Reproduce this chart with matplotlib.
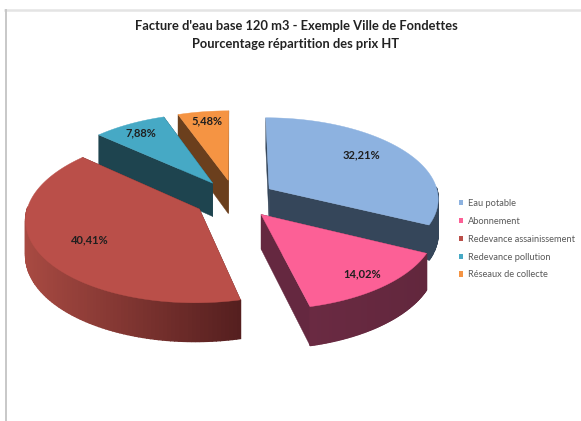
import numpy as np
import matplotlib
matplotlib.use("Agg")
import matplotlib.pyplot as plt
from matplotlib.colors import to_rgb
from matplotlib.patches import Polygon, Patch
from matplotlib.lines import Line2D

labels = ["Eau potable", "Abonnement", "Redevance assainissement",
          "Redevance pollution", "Réseaux de collecte"]
values = [32.21, 14.02, 40.41, 7.88, 5.48]
value_text = ["32,21%", "14,02%", "40,41%", "7,88%", "5,48%"]
top_colors = ["#8DB2E0", "#FC6096", "#BA4F49", "#46A9C5", "#F59443"]
cut_colors = ["#35465A", "#652840", "#5A2222", "#1E444F", "#6B3F1D"]
arc_bright = ["#3A4A60", "#6A2A42", "#A84A42", "#26505E", "#7A4820"]
arc_dark = ["#35465A", "#62273D", "#551F1F", "#1E444F", "#6B3F1D"]
title_lines = ["Facture d'eau base 120 m3 - Exemple Ville de Fondettes",
               "Pourcentage répartition des prix HT"]
label_offset = [(0.69, 0.85), (0.84, 0.84), (0.70, 0.70), (0.845, 0.845), (0.853, 0.853)]

W, H = 581, 421
CX, CY = 235.0, 199.0
A, B = 170.0, 81.0
PERSP = 0.11
EXPLODE = 0.24
DEPTH = 34.0

plt.rcParams['font.family'] = ['Lato', 'DejaVu Sans']
fig = plt.figure(figsize=(W / 100, H / 100), dpi=100)
ax = fig.add_axes([0, 0, 1, 1])
ax.set_xlim(0, W)
ax.set_ylim(H, 0)
ax.axis("off")


def project(X, Y, z=0.0):
    s = 1.0 / (1.0 + PERSP * np.asarray(Y))
    return CX + A * np.asarray(X) * s, CY - B * np.asarray(Y) * s + z * DEPTH * s


fractions = np.array(values) / np.sum(values)
starts = 90 - 360 * np.concatenate([[0], np.cumsum(fractions)[:-1]])
ends = starts - 360 * fractions
mids = (starts + ends) / 2

geo = []
for i in range(len(values)):
    ox = EXPLODE * np.cos(np.radians(mids[i]))
    oy = EXPLODE * np.sin(np.radians(mids[i]))
    th = np.radians(np.linspace(starts[i], ends[i], 120))
    geo.append((ox, oy, ox + np.cos(th), oy + np.sin(th)))

# painter's order: far slices first
order = sorted(range(len(values)), key=lambda i: -geo[i][1])
for i in order:
    ox, oy, gx, gy = geo[i]
    z = 2 + order.index(i)
    # cut faces
    for (ex, ey) in [(gx[0], gy[0]), (gx[-1], gy[-1])]:
        x, y = project(np.array([ox, ex, ex, ox]), np.array([oy, ey, ey, oy]),
                       np.array([0, 0, 1, 1]))
        ax.add_patch(Polygon(np.c_[x, y], closed=True, fc=cut_colors[i],
                             ec=cut_colors[i], lw=0.3, zorder=z))
    # outer wall with a shading gradient along the screen x position
    sx, _ = project(gx, gy)
    for j in range(len(gx) - 1):
        if (gy[j] + gy[j + 1]) / 2 - oy > 0.02:
            continue
        x = np.array([gx[j], gx[j + 1], gx[j + 1], gx[j]])
        yy = np.array([gy[j], gy[j + 1], gy[j + 1], gy[j]])
        px, py = project(x, yy, np.array([0, 0, 1, 1]))
        t = np.clip((sx[j] - sx.min()) / max(sx.max() - sx.min(), 1), 0, 1)
        c = (1 - t) * np.array(to_rgb(arc_bright[i])) + t * np.array(to_rgb(arc_dark[i]))
        ax.add_patch(Polygon(np.c_[px, py], closed=True, fc=c, ec=c, lw=1.0,
                             zorder=z))
    # top face
    tx, ty = project(np.r_[ox, gx], np.r_[oy, gy])
    ax.add_patch(Polygon(np.c_[tx, ty], closed=True, fc=top_colors[i],
                         ec=top_colors[i], lw=0.3, zorder=z))

    # value label
    m = np.radians(mids[i])
    rx, ry = label_offset[i]
    lx, ly = project(ox + rx * np.cos(m), oy + ry * np.sin(m))
    ax.text(lx, ly, value_text[i], ha="center", va="center", fontsize=8,
            fontweight="bold", color="#1f1f1f", zorder=30)

# outer frame of the original picture
ax.add_line(Line2D([5, W], [10, 10], color="#E4E4E4", lw=1.8, zorder=1))
ax.add_line(Line2D([5.5, 5.5], [10, H], color="#C8C8C8", lw=1.4, zorder=1))

ax.text(296, 26, title_lines[0], ha="center", va="center", fontsize=9.3,
        fontweight="bold", color="#222222")
ax.text(296, 44, title_lines[1], ha="center", va="center", fontsize=9.3,
        fontweight="bold", color="#222222")

handles = [Patch(fc=c, ec="none") for c in top_colors]
ax.legend(handles, labels, loc="upper left", bbox_to_anchor=(458.5 / W, 1 - 199 / H),
          frameon=False, fontsize=6.7, labelcolor="#595959", handlelength=0.5,
          handleheight=0.5, handletextpad=0.5, labelspacing=0.95,
          borderpad=0, borderaxespad=0)

fig.savefig("out.png", dpi=100, facecolor="white")
